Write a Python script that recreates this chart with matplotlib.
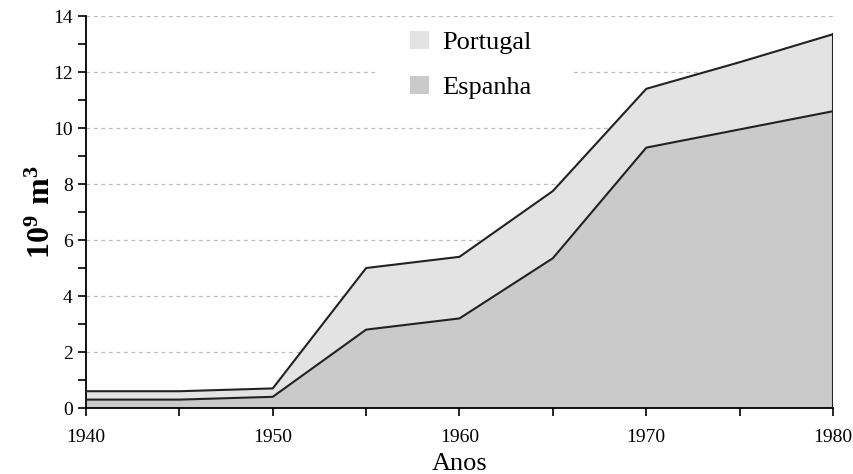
import matplotlib
matplotlib.use("Agg")
import matplotlib.pyplot as plt
import numpy as np
from matplotlib.ticker import MultipleLocator
from matplotlib.patches import Rectangle

years = [1940, 1945, 1950, 1955, 1960, 1965, 1970, 1975, 1980]
espanha = [0.3, 0.3, 0.4, 2.8, 3.2, 5.35, 9.3, 9.95, 10.6]
portugal = [0.3, 0.3, 0.3, 2.2, 2.2, 2.4, 2.1, 2.4, 2.75]

plt.rcParams['font.family'] = ['Liberation Serif', 'DejaVu Serif']
plt.rcParams['mathtext.fontset'] = 'custom'
plt.rcParams['mathtext.rm'] = 'Liberation Serif'
plt.rcParams['mathtext.bf'] = 'Liberation Serif:bold'

fig = plt.figure(figsize=(8.54, 4.74), dpi=100)
ax = fig.add_axes([0.1007, 0.1392, 0.8747, 0.827])

x = np.array(years)
e = np.array(espanha)
t = e + np.array(portugal)

ax.fill_between(x, 0, e, facecolor='#cacaca', edgecolor='none', label='Espanha', zorder=2)
ax.fill_between(x, e, t, facecolor='#e3e3e3', edgecolor='none', label='Portugal', zorder=2)
ax.plot(x, e, color='#222222', lw=1.5, zorder=3)
ax.plot(x, t, color='#222222', lw=1.5, zorder=3)
ax.plot([x[-1], x[-1]], [0, t[-1]], color='#222222', lw=1.5, zorder=3)

ax.set_xlim(1940, 1980)
ax.set_ylim(0, 14)
ax.xaxis.set_major_locator(MultipleLocator(10))
ax.xaxis.set_minor_locator(MultipleLocator(5))
ax.yaxis.set_major_locator(MultipleLocator(2))
ax.yaxis.set_minor_locator(MultipleLocator(1))
ax.tick_params(which='both', direction='out', length=6, width=1.2)
ax.tick_params(which='major', labelsize=14)
ax.tick_params(axis='y', which='major', pad=3.5)
ax.tick_params(axis='x', which='major', pad=9)

for s in ['top', 'right']:
    ax.spines[s].set_visible(False)
for s in ['left', 'bottom']:
    ax.spines[s].set_linewidth(1.3)

ax.yaxis.grid(True, which='major', linestyle=(0, (3, 3)), color='#bbbbbb', lw=0.9, zorder=0)
ax.set_axisbelow(True)

# white background behind the legend
ax.add_patch(Rectangle((0.387, 0.786), 0.261, 0.204, transform=ax.transAxes,
                       facecolor='white', edgecolor='none', zorder=1))

ax.set_xlabel('Anos', fontsize=19, labelpad=5)
ax.set_ylabel(r'$\mathbf{10^9\ m^3}$', fontsize=23, labelpad=-3)

h, l = ax.get_legend_handles_labels()
leg = ax.legend(h[::-1], l[::-1], loc='upper left', bbox_to_anchor=(0.434, 0.962),
                frameon=False, fontsize=19, handlelength=0.7, handleheight=0.7,
                handletextpad=0.5, labelspacing=0.8, borderpad=0, borderaxespad=0)
leg.set_zorder(5)

fig.savefig('out.png', dpi=100)
